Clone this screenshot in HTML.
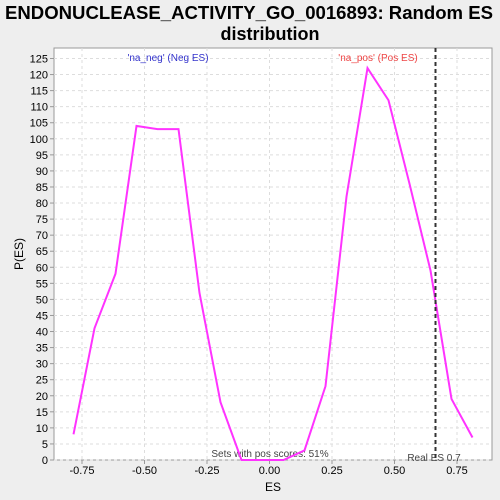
<!DOCTYPE html>
<html><head><meta charset="utf-8"><style>
body{margin:0;background:#eeeeee;font-family:"Liberation Sans","DejaVu Sans",sans-serif;}
svg{display:block}
</style></head><body>
<svg id="c" width="500" height="500" xmlns="http://www.w3.org/2000/svg">
<rect x="0" y="0" width="500" height="500" fill="#eeeeee"/>
<text x="249" y="19" font-size="18" font-weight="bold" text-anchor="middle" textLength="488" lengthAdjust="spacingAndGlyphs" fill="#000">ENDONUCLEASE_ACTIVITY_GO_0016893: Random ES</text>
<text x="270" y="40" font-size="18" font-weight="bold" text-anchor="middle" fill="#000">distribution</text>
<rect x="54" y="48" width="438" height="412" fill="#fff" stroke="#999"/>
<g id="grid"></g><g id="axes"></g>
<text x="168" y="61" font-size="10" fill="#3333cc" text-anchor="middle">'na_neg' (Neg ES)</text>
<text x="378" y="61" font-size="10" fill="#ee4444" text-anchor="middle">'na_pos' (Pos ES)</text>
<text x="270" y="457" font-size="10" fill="#444" text-anchor="middle">Sets with pos scores: 51%</text>
<text x="434" y="461" font-size="10" fill="#444" text-anchor="middle">Real ES 0.7</text>
<text x="273" y="491" font-size="12" text-anchor="middle">ES</text>
<text x="23" y="254" font-size="12" text-anchor="middle" transform="rotate(-90 23 254)">P(ES)</text>
<g id="marks"></g>
</svg>
<script>
const esValues=[-0.784,-0.700,-0.616,-0.532,-0.448,-0.364,-0.280,-0.196,-0.112,-0.028,0.056,0.140,0.224,0.308,0.392,0.476,0.560,0.644,0.728,0.812];
const probValues=[8,41,58,104,103,103,52,18,0,0,0,3,23,82,122,112,86,59,19,7];
const xTicks=[-0.75,-0.5,-0.25,0,0.25,0.5,0.75];
const xTickLabels=["-0.75","-0.50","-0.25","0.00","0.25","0.50","0.75"];
const yTicks=[0,5,10,15,20,25,30,35,40,45,50,55,60,65,70,75,80,85,90,95,100,105,110,115,120,125];
const realES=0.664;
const NS='http://www.w3.org/2000/svg';
const X=v=>269.5+v*250;
const Y=v=>460-v*3.212;
function mk(t,a,p){const e=document.createElementNS(NS,t);for(const k in a)e.setAttribute(k,a[k]);p.appendChild(e);return e;}
const grid=document.getElementById('grid'),axes=document.getElementById('axes'),marks=document.getElementById('marks');
xTicks.forEach((v,i)=>{
 const g=mk('line',{x1:X(v),x2:X(v),y1:48,y2:460,stroke:'#ddd','stroke-dasharray':'3,3'},grid);
 
 
 const t=mk('line',{x1:X(v),x2:X(v),y1:460,y2:464,stroke:'#999'},axes);
 
 
 const l=mk('text',{x:X(v),y:474,'font-size':11,'text-anchor':'middle'},axes);l.textContent=xTickLabels[i];
 
 
});
yTicks.forEach(v=>{
 const g=mk('line',{x1:54,x2:492,y1:Y(v),y2:Y(v),stroke:'#ddd','stroke-dasharray':'3,3'},grid);
 
 
 const t=mk('line',{x1:50,x2:54,y1:Y(v),y2:Y(v),stroke:'#999'},axes);
 
 
 const l=mk('text',{x:48,y:Y(v)+4,'font-size':11,'text-anchor':'end'},axes);l.textContent=v;
 
 
});
const pl=mk('polyline',{points:esValues.map((v,i)=>X(v)+','+Y(probValues[i])).join(' '),fill:'none',stroke:'#ff33ff','stroke-width':2},marks);


const rl=mk('line',{x1:X(realES),x2:X(realES),y1:48,y2:460,stroke:'#333','stroke-width':2,'stroke-dasharray':'4,3'},marks);


</script>
</body></html>
